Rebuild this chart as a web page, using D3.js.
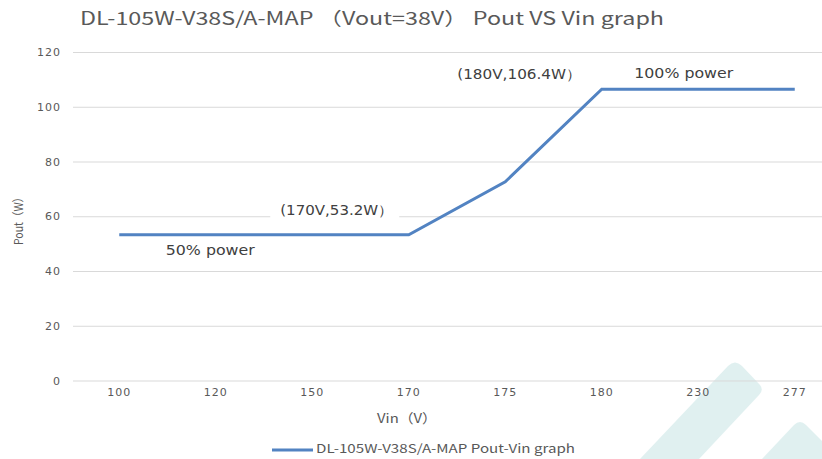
<!DOCTYPE html>
<html>
<head>
<meta charset="utf-8">
<script src="https://cdn.jsdelivr.net/npm/d3@7"></script>
<style>
  body { margin: 0; background: #fff; }
  svg { display: block; }
  text { font-family: "Noto Sans CJK SC", "Open Sans", sans-serif; }
</style>
</head>
<body>
<div class="chart"></div>
<script>
// Pout vs Vin data
const vinLabels = ["100", "120", "150", "170", "175", "180", "230", "277"];
const poutValues = [53.2, 53.2, 53.2, 53.2, 72.6, 106.4, 106.4, 106.4];
const yTicks = [0, 20, 40, 60, 80, 100, 120];

// data labels: anchored on a category/value, offset in px
const notes = [
    {cat: "150", val: 53.2, text: "(170V,53.2W）", dx: -32, dy: -24, len: 113, box: true},
    {cat: "120", val: 53.2, text: "50% power", dx: -50, dy: 16, len: 89, box: false},
    {cat: "175", val: 106.4, text: "(180V,106.4W）", dx: -48, dy: -14, len: 124, box: false},
    {cat: "230", val: 106.4, text: "100% power", dx: -64, dy: -15, len: 99, box: false}
];

function chart(){
    const width = 822, height = 459;

    const svg = d3.select('.chart').append('svg')
        .attr("width", width)
        .attr("height", height);

    // light teal watermark stripes in the corner
    const mark = svg.append("g").attr("fill", "#d6ecec").attr("opacity", 0.75);
    mark.append("path")
        .attr("d", "M640,459 L728,366 Q735,359 742,366 L760,385 Q764,390 759,395 L699,459 Z");
    mark.append("path")
        .attr("d", "M762,459 L794,425 Q800,419 806,425 L822,441 L822,459 Z");

    const xScale = d3.scaleBand()
        .domain(vinLabels)
        .range([71, 843]);

    const yScale = d3.scaleLinear()
        .domain([0, 120])
        .range([380.5, 52]);

    const xc = d => xScale(d) + xScale.bandwidth() / 2;

    // title
    svg.append("text")
        .attr("x", 80)
        .attr("y", 24.5)
        .attr("fill", "#595959")
        .attr("textLength", 584)
        .attr("lengthAdjust", "spacingAndGlyphs")
        .style("font-size", "18px")
        .text("DL-105W-V38S/A-MAP （Vout=38V） Pout  VS Vin graph");

    // gridlines + y axis
    const yAxis = d3.axisLeft(yScale)
        .tickValues(yTicks)
        .tickSize(-(width - 73))
        .tickPadding(12);

    svg.append("g")
        .attr("class", "axis y-axis")
        .attr("transform", "translate(73,0)")
        .call(yAxis)
        .call(g => g.select(".domain").remove())
        .call(g => g.selectAll("line").attr("stroke", "#d9d9d9"))
        .call(g => g.selectAll("text")
            .attr("fill", "#595959")
            .style("font-size", "11px")
            .style("letter-spacing", "1px")
            .style("font-family", "'DejaVu Sans', sans-serif"));

    const xAxis = d3.axisBottom(xScale)
        .tickSize(0)
        .tickPadding(8);

    svg.append("g")
        .attr("class", "axis x-axis")
        .attr("transform", "translate(0,380.5)")
        .call(xAxis)
        .call(g => g.select(".domain").remove())
        .call(g => g.selectAll("text")
            .attr("fill", "#595959")
            .style("font-size", "11px")
            .style("letter-spacing", "1px")
            .style("font-family", "'DejaVu Sans', sans-serif"));

    // axis titles
    svg.append("text")
        .attr("x", 377)
        .attr("y", 423)
        .attr("fill", "#595959")
        .attr("textLength", 60)
        .attr("lengthAdjust", "spacingAndGlyphs")
        .style("font-size", "13px")
        .text("Vin（V）");

    svg.append("text")
        .attr("transform", "translate(23,245)rotate(-90)")
        .attr("fill", "#595959")
        .attr("textLength", 53)
        .attr("lengthAdjust", "spacingAndGlyphs")
        .style("font-size", "12px")
        .text("Pout（W）");

    // data labels (boxes go under the curve)
    notes.forEach(n => {
        const g = svg.append("g")
            .attr("transform", `translate(${xc(n.cat) + n.dx},${yScale(n.val) + n.dy})`);
        const t = g.append("text")
            .attr("dominant-baseline", "middle")
            .attr("fill", "#404040")
            .attr("textLength", n.len)
            .attr("lengthAdjust", "spacingAndGlyphs")
            .style("font-size", "14px")
            .style("font-family", "'DejaVu Sans', sans-serif")
            .text(n.text);
        if (n.box) {
            const bb = t.node().getBBox();
            g.insert("rect", "text")
                .attr("x", bb.x - 10)
                .attr("y", bb.y - 2)
                .attr("width", bb.width + 16)
                .attr("height", bb.height + 4)
                .attr("fill", "#fff");
        }
    });

    // the curve
    const line = d3.line()
        .x((d, i) => xc(vinLabels[i]))
        .y(d => yScale(d));

    svg.append("path")
        .datum(poutValues)
        .attr("fill", "none")
        .attr("stroke", "#5283c2")
        .attr("stroke-width", 3)
        .attr("d", line);

    // legend
    svg.append("line")
        .attr("x1", 272).attr("x2", 313)
        .attr("y1", 450).attr("y2", 450)
        .attr("stroke", "#5283c2")
        .attr("stroke-width", 3);

    svg.append("text")
        .attr("x", 316)
        .attr("y", 450)
        .attr("dominant-baseline", "middle")
        .attr("fill", "#595959")
        .attr("textLength", 259)
        .attr("lengthAdjust", "spacingAndGlyphs")
        .style("font-size", "12px")
        .text("DL-105W-V38S/A-MAP  Pout-Vin graph");
}

chart();
</script>
</body>
</html>
